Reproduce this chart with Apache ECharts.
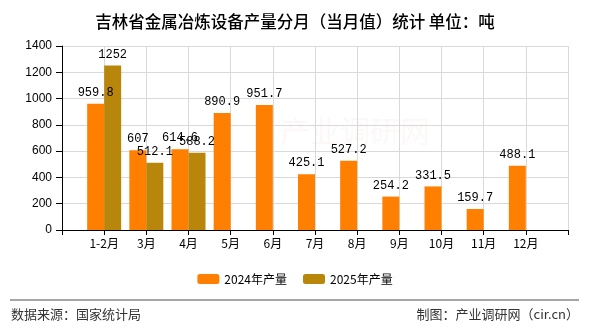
<!DOCTYPE html>
<html>
<head>
<meta charset="utf-8">
<script src="https://cdn.jsdelivr.net/npm/echarts@6/dist/echarts.min.js"></script>
<style>
html,body{margin:0;padding:0;background:#fff;}
#c{width:590px;height:330px;}
</style>
</head>
<body>
<div id="c"></div>
<script>
var categories = ['1-2月','3月','4月','5月','6月','7月','8月','9月','10月','11月','12月'];
var values2024 = [959.8, 607, 614.6, 890.9, 951.7, 425.1, 527.2, 254.2, 331.5, 159.7, 488.1];
var values2025 = [1252, 512.1, 588.2, null, null, null, null, null, null, null, null];
var seriesNames = ['2024年产量', '2025年产量'];
var yTicks = [0, 200, 400, 600, 800, 1000, 1200, 1400];

var axisCats = [''].concat(categories).concat(['']);
function pad(arr){ return [null].concat(arr).concat([null]); }

var chart = echarts.init(document.getElementById('c'), null, {renderer:'canvas'});
var labelStyle = {
  show: true, position: 'top', distance: 5,
  fontFamily: 'Liberation Mono, DejaVu Sans Mono, monospace', fontSize: 12, color: '#000',
  formatter: function(p){ return p.value == null ? '' : String(p.value); }
};
chart.setOption({
  animation: false,
  title: {
    text: '吉林省金属冶炼设备产量分月（当月值）统计 单位：吨',
    left: 'center', top: 8,
    textStyle: {fontSize: 16.5, fontWeight: 500, color: '#000', fontFamily: 'Noto Sans CJK SC'}
  },
  legend: {
    data: seriesNames, top: 268, left: 'center',
    itemWidth: 22, itemHeight: 10, itemGap: 16,
    textStyle: {fontSize: 12, color: '#000', fontFamily: 'Noto Sans CJK SC'}
  },
  grid: {left: 62, right: 22, top: 46, bottom: 100, containLabel: false},
  xAxis: {
    type: 'category', data: axisCats, boundaryGap: false,
    axisLine: {lineStyle: {color: '#000', width: 1}},
    axisTick: {show: true, length: 5, interval: 0, lineStyle: {color: '#000'}},
    axisLabel: {interval: 0, margin: 7, fontSize: 12, color: '#000', fontFamily: 'Noto Sans CJK SC'},
    splitLine: {show: true, interval: 0, lineStyle: {color: '#d9d9d9', width: 1}}
  },
  yAxis: {
    type: 'value', min: yTicks[0], max: yTicks[yTicks.length-1], interval: 200,
    axisLine: {show: true, lineStyle: {color: '#000', width: 1}},
    axisTick: {show: true, length: 6, lineStyle: {color: '#000'}},
    axisLabel: {margin: 10, fontSize: 12, color: '#000', fontFamily: 'Liberation Sans, Arial',
      formatter: function(v){ return String(v); }},
    splitLine: {show: true, lineStyle: {color: '#d9d9d9', width: 1}}
  },
  series: [
    {name: seriesNames[0], type: 'bar', data: pad(values2024), barWidth: 17, barGap: '0%',
     itemStyle: {color: '#FF8000'}, label: labelStyle},
    {name: seriesNames[1], type: 'bar', data: pad(values2025), barWidth: 17, barGap: '0%',
     itemStyle: {color: '#B8860B'}, label: labelStyle}
  ],
  graphic: [
    {type: 'text', left: 280, top: 116, z: -1, style: {text: '产业调研网', fontSize: 30, fill: 'rgba(240,200,200,0.12)', fontFamily: 'Noto Sans CJK SC'}},
    {type: 'line', shape: {x1: 10, y1: 300, x2: 579, y2: 300}, style: {stroke: '#888', lineWidth: 1.5}},
    {type: 'text', left: 11, top: 308, style: {text: '数据来源：国家统计局', fontSize: 13, fill: '#333', fontFamily: 'Noto Sans CJK SC'}},
    {type: 'text', right: 11, top: 308, style: {text: '制图：产业调研网（cir.cn）', fontSize: 13, fill: '#333', fontFamily: 'Noto Sans CJK SC'}}
  ]
});
</script>
</body>
</html>
